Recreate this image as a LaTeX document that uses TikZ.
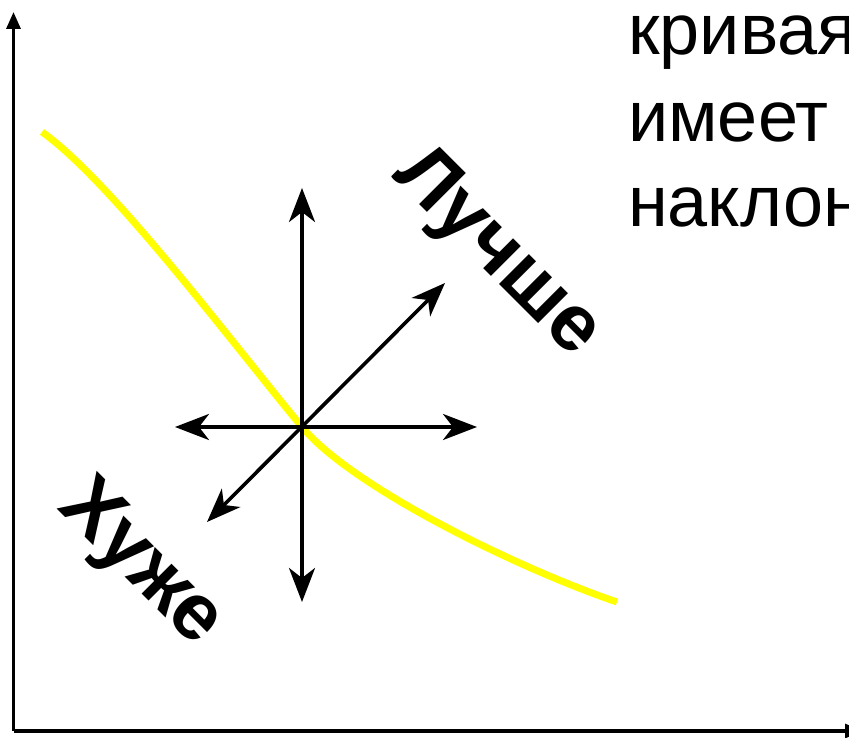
\documentclass[tikz,border=0pt]{standalone}
\usepackage{fontspec}
\setmainfont{Liberation Sans}
\usetikzlibrary{arrows.meta}
\tikzset{
  axisline/.style={line width=3.2pt,-{Triangle[length=17pt,width=14pt]}},
  crossarrow/.style={line width=3.6pt,{Stealth[length=34pt,width=26pt,inset=10pt]}-{Stealth[length=34pt,width=26pt,inset=10pt]}},
  curveline/.style={line width=7pt,draw={rgb,255:red,255;green,255;blue,0}},
  plaintext/.style={inner sep=0pt,anchor=base west,font=\fontsize{72}{86}\selectfont},
  boldtext/.style={inner sep=0pt,anchor=base west,rotate=-45,font=\fontsize{80}{96}\selectfont\bfseries}
}
\begin{document}
\begin{tikzpicture}[x=1pt,y=-1pt]
\useasboundingbox (0,0) rectangle (849,738);
% axes
\coordinate (o) at (13.5,731);
\coordinate (ytip) at (13.5,12);
\coordinate (xtip) at (862,731);
\draw[axisline] (o) -- (ytip);
\draw[axisline] (o) -- (xtip);
% curve
\coordinate (c) at (302,427);
\draw[curveline] (42,132) .. controls (110,180) and (230,340) .. (c)
  .. controls (352,487) and (517,568) .. (617,602);
% cross of arrows
\coordinate (up) at (302,188);
\coordinate (down) at (302,602);
\coordinate (left) at (175,427);
\coordinate (right) at (477,427);
\coordinate (ur) at (445,283);
\coordinate (dl) at (207,522);
\draw[crossarrow] (down) -- (up);
\draw[crossarrow] (left) -- (right);
\draw[crossarrow] (dl) -- (ur);
% labels
\node[boldtext] (better) at (391,176) {Лучше};
\node[boldtext] (worse) at (56,508) {Хуже};
\node[plaintext] (t1) at (628,55) {кривая};
\node[plaintext] (t2) at (628,142) {имеет};
\node[plaintext] (t3) at (628,227) {наклон};
\end{tikzpicture}
\end{document}
